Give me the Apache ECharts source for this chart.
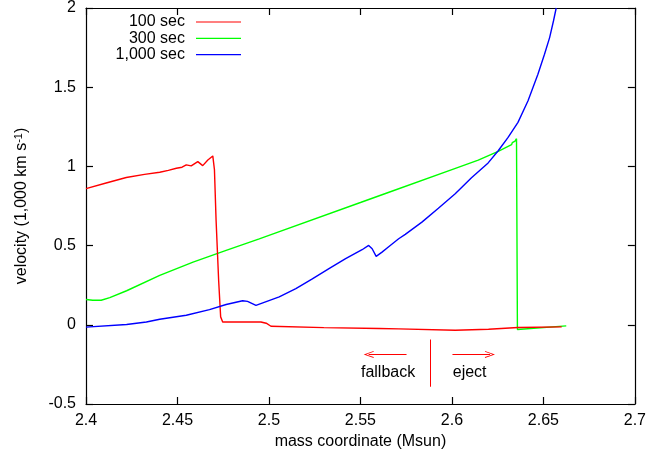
<!DOCTYPE html>
<html>
<head>
<meta charset="utf-8">
<script src="https://cdn.jsdelivr.net/npm/echarts@6/dist/echarts.min.js"></script>
<style>html,body{margin:0;padding:0;background:#fff}#c{width:649px;height:455px}</style>
</head>
<body>
<div id="c"></div>
<script>
// ---- data ----
const seriesNames = ['100 sec', '300 sec', '1,000 sec'];

const redX = [2.4, 2.411, 2.422, 2.432, 2.4403, 2.445, 2.4494, 2.4525, 2.4548, 2.4575, 2.4611, 2.4638, 2.4666, 2.4693, 2.4702, 2.4711, 2.4725, 2.4736, 2.4747, 2.4956, 2.4985, 2.5011, 2.53, 2.5601, 2.5709, 2.6018, 2.62, 2.6361, 2.66];
const redY = [0.86, 0.895, 0.93, 0.95, 0.963, 0.975, 0.988, 0.995, 1.01, 1.003, 1.03, 1.005, 1.04, 1.066, 0.98, 0.66, 0.28, 0.05, 0.018, 0.018, 0.01, -0.009, -0.018, -0.023, -0.026, -0.034, -0.028, -0.017, -0.013];

const greenX = [2.4, 2.4037, 2.4083, 2.413, 2.4222, 2.4403, 2.4585, 2.4766, 2.4947, 2.5, 2.55, 2.5656, 2.6, 2.6144, 2.6253, 2.6326, 2.633, 2.6338, 2.6345, 2.6353, 2.6358, 2.6625];
const greenY = [0.16, 0.155, 0.155, 0.172, 0.215, 0.312, 0.396, 0.47, 0.543, 0.565, 0.772, 0.837, 0.98, 1.04, 1.095, 1.137, 1.15, 1.14, 1.16, 1.175, -0.03, -0.007];

const blueX = [2.4, 2.4222, 2.433, 2.4403, 2.4548, 2.4675, 2.4766, 2.4856, 2.4883, 2.4929, 2.5056, 2.5147, 2.5237, 2.5328, 2.5419, 2.5509, 2.5545, 2.5564, 2.5586, 2.5618, 2.5656, 2.5709, 2.5745, 2.5836, 2.5926, 2.6018, 2.6107, 2.6198, 2.6253, 2.6307, 2.6361, 2.6416, 2.647, 2.6506, 2.6534, 2.6555, 2.657];
const blueY = [-0.015, 0.002, 0.018, 0.035, 0.06, 0.096, 0.128, 0.152, 0.148, 0.123, 0.176, 0.229, 0.29, 0.355, 0.418, 0.474, 0.501, 0.48, 0.432, 0.459, 0.494, 0.543, 0.571, 0.648, 0.736, 0.827, 0.928, 1.022, 1.099, 1.183, 1.278, 1.414, 1.582, 1.708, 1.813, 1.918, 2.0];

const xTicks = [2.4, 2.45, 2.5, 2.55, 2.6, 2.65, 2.7];
const yTicks = [-0.5, 0, 0.5, 1, 1.5, 2];

// annotations (data coordinates)
const arrowFallback = [[2.5752, -0.187], [2.5545, -0.187]];
const arrowEject = [[2.6003, -0.187], [2.6208, -0.187]];
const divider = [[2.5882, -0.093], [2.5882, -0.391]];
const annotTexts = [{ name: 'fallback', value: [2.5651, -0.303] }, { name: 'eject', value: [2.6097, -0.303] }];

// ---- chart ----
const FONT = '"Liberation Sans", Arial, sans-serif';
const FS = 16;
const zip = (xs, ys) => xs.map((x, i) => [x, ys[i]]);
const chevron = 'path://M0,10 L5,0 L10,10 L8.8,10 L5,2.4 L1.2,10 Z';

const axisLineStyle = { color: '#000', width: 1.2 };
const tickStyle = { show: true, inside: true, length: 7, lineStyle: { color: '#000', width: 1.2 } };
const xMin = xTicks[0], xMax = xTicks[xTicks.length - 1];
const yMin = yTicks[0], yMax = yTicks[yTicks.length - 1];
const fmt = v => String(parseFloat(v.toFixed(2)));

const chart = echarts.init(document.getElementById('c'), null, { renderer: 'canvas' });
const colors = ['#ff0000', '#00ff00', '#0000ff'];

const legends = seriesNames.map((n, i) => ({
  data: [n], orient: 'horizontal', align: 'right', right: 408, top: 14 + i * 16.3,
  padding: 0, itemWidth: 45, itemHeight: 14, icon: 'path://M0,6.5 L45,6.5 L45,7.7 L0,7.7 Z',
  textStyle: { fontFamily: FONT, fontSize: FS, color: '#000', padding: [0, 6, 0, 0] },
  selectedMode: false
}));

const segStyle = { color: '#ff0000', width: 1, type: 'solid' };
const mkLineSeg = (seg, arrow) => [
  { coord: seg[0], symbol: 'none', lineStyle: segStyle },
  { coord: seg[1], symbol: arrow ? chevron : 'none', symbolSize: [7, 10], lineStyle: segStyle }
];

chart.setOption({
  animation: false,
  color: colors,
  legend: legends,
  grid: { left: 86, right: 12, top: 7, bottom: 51 },
  xAxis: [
    {
      type: 'value', min: xMin, max: xMax, interval: 0.05, position: 'bottom',
      axisLine: { show: true, onZero: false, lineStyle: axisLineStyle },
      axisTick: tickStyle,
      axisLabel: { margin: 9, fontSize: FS, color: '#000', fontFamily: FONT, formatter: fmt },
      splitLine: { show: false },
      name: 'mass coordinate (Msun)', nameLocation: 'middle', nameGap: 30,
      nameTextStyle: { fontSize: FS, color: '#000', fontFamily: FONT }
    },
    {
      type: 'value', min: xMin, max: xMax, interval: 0.05, position: 'top',
      axisLine: { show: true, onZero: false, lineStyle: axisLineStyle },
      axisTick: tickStyle, axisLabel: { show: false }, splitLine: { show: false }
    }
  ],
  yAxis: [
    {
      type: 'value', min: yMin, max: yMax, interval: 0.5, position: 'left',
      axisLine: { show: true, onZero: false, lineStyle: axisLineStyle },
      axisTick: tickStyle,
      axisLabel: { margin: 10, fontSize: FS, color: '#000', fontFamily: FONT, formatter: fmt },
      splitLine: { show: false },
      name: 'velocity (1,000 km s{sup|-1})', nameLocation: 'middle', nameGap: 55,
      nameTextStyle: {
        fontSize: FS, color: '#000', fontFamily: FONT,
        rich: { sup: { fontSize: 11, color: '#000', fontFamily: FONT, verticalAlign: 'top', padding: [0, 0, 7, 0] } }
      }
    },
    {
      type: 'value', min: yMin, max: yMax, interval: 0.5, position: 'right',
      axisLine: { show: true, onZero: false, lineStyle: axisLineStyle },
      axisTick: tickStyle, axisLabel: { show: false }, splitLine: { show: false }
    }
  ],
  series: [
    {
      name: seriesNames[0], type: 'line', data: zip(redX, redY), symbol: 'none',
      lineStyle: { width: 1.4, color: colors[0] }, itemStyle: { color: colors[0] }, z: 3,
      markLine: {
        silent: true, animation: false, symbol: 'none', label: { show: false },
        lineStyle: segStyle,
        emphasis: { disabled: true },
        data: [mkLineSeg(arrowFallback, true), mkLineSeg(arrowEject, true), mkLineSeg(divider, false)]
      }
    },
    {
      name: seriesNames[1], type: 'line', data: zip(greenX, greenY), symbol: 'none',
      lineStyle: { width: 1.4, color: colors[1] }, itemStyle: { color: colors[1] }, z: 2
    },
    {
      name: seriesNames[2], type: 'line', data: zip(blueX, blueY), symbol: 'none',
      lineStyle: { width: 1.4, color: colors[2] }, itemStyle: { color: colors[2] }, z: 4
    },
    {
      name: 'annotations', type: 'scatter', data: annotTexts, symbolSize: 0, silent: true,
      itemStyle: { opacity: 1 },
      label: { show: true, position: 'inside', formatter: '{b}', fontSize: FS, color: '#000', fontFamily: FONT, textBorderWidth: 0, opacity: 1 }
    }
  ]
});
</script>
</body>
</html>
